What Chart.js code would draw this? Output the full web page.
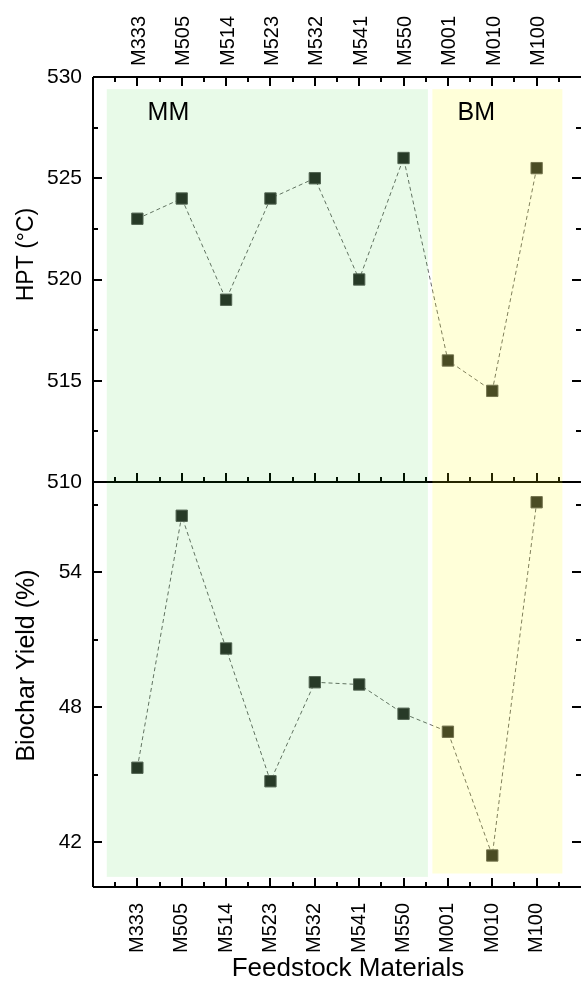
<!DOCTYPE html>
<html lang="en"><head>
<meta charset="utf-8">
<script src="https://cdn.jsdelivr.net/npm/chart.js@4.4.0/dist/chart.umd.min.js"></script>
<style>
  html, body { margin: 0; padding: 0; background: #fff; }
</style>
</head>
<body>
<canvas id="myChart" width="581" height="981"></canvas>
<script>
const materials = ['M333', 'M505', 'M514', 'M523', 'M532', 'M541', 'M550', 'M001', 'M010', 'M100'];
const hpt = [523, 524, 519, 524, 525, 520, 526, 516, 514.5, 525.5];
const biocharYield = [45.3, 56.5, 50.6, 44.7, 49.1, 49.0, 47.7, 46.9, 41.4, 57.1];
const hptTicks = [510, 515, 520, 525, 530];
const yieldTicks = [42, 48, 54];

// shaded groups (x in category index units, top in HPT units, bottom in yield units)
const groupNames = ['MM', 'BM'];
const groupStart = [-0.69, 6.65];
const groupEnd = [6.55, 9.58];
const groupTop = [529.4, 529.4];
const groupBottom = [40.45, 40.6];
const groupLabelX = [0.7, 7.64];
const groupLabelY = [528.2, 528.2];
const groupColors = ['rgba(0,200,0,0.09)', 'rgba(255,255,0,0.15)'];

const FONT = "'Liberation Sans', Arial, sans-serif";
Chart.defaults.font.family = FONT;
Chart.defaults.color = '#000';

const frame = {
  id: 'frame',
  beforeDatasetsDraw(chart) {
    const { ctx, chartArea: a, scales } = chart;
    const x = scales.x, yt = scales.yTop, yb = scales.yBot;
    const mid = yt.getPixelForValue(510);
    ctx.save();
    ctx.strokeStyle = '#000';
    ctx.lineWidth = 2;
    ctx.beginPath();
    ctx.moveTo(a.left, a.top); ctx.lineTo(a.right + 2, a.top);
    ctx.moveTo(a.left, a.bottom); ctx.lineTo(a.right + 2, a.bottom);
    ctx.moveTo(a.left, a.top); ctx.lineTo(a.left, a.bottom);
    ctx.moveTo(a.right + 2, a.top); ctx.lineTo(a.right + 2, a.bottom);
    ctx.moveTo(a.left, mid); ctx.lineTo(a.right + 2, mid);
    ctx.stroke();

    ctx.beginPath();
    for (let v = -0.5; v <= 9.5; v += 0.5) {
      const len = Number.isInteger(v) ? 9 : 5;
      const px = Math.round(x.getPixelForValue(v));
      ctx.moveTo(px, a.top); ctx.lineTo(px, a.top + len);
      ctx.moveTo(px, a.bottom); ctx.lineTo(px, a.bottom - len);
      ctx.moveTo(px, mid); ctx.lineTo(px, mid - len);
    }
    for (let v = 512.5; v < 530; v += 2.5) {
      const len = v % 5 === 0 ? 9 : 5;
      const py = Math.round(yt.getPixelForValue(v));
      ctx.moveTo(a.left, py); ctx.lineTo(a.left + len, py);
      ctx.moveTo(a.right, py); ctx.lineTo(a.right - len, py);
    }
    for (let v = 42; v < 58; v += 3) {
      const len = yieldTicks.includes(v) ? 9 : 5;
      const py = Math.round(yb.getPixelForValue(v));
      ctx.moveTo(a.left, py); ctx.lineTo(a.left + len, py);
      ctx.moveTo(a.right, py); ctx.lineTo(a.right - len, py);
    }
    ctx.stroke();
    ctx.restore();
  },
  afterDatasetsDraw(chart) {
    const { ctx, scales } = chart;
    const x = scales.x, yt = scales.yTop, yb = scales.yBot;
    ctx.save();
    groupNames.forEach((name, i) => {
      const x0 = x.getPixelForValue(groupStart[i]);
      const x1 = x.getPixelForValue(groupEnd[i]);
      const y0 = yt.getPixelForValue(groupTop[i]);
      const y1 = yb.getPixelForValue(groupBottom[i]);
      ctx.fillStyle = groupColors[i];
      ctx.fillRect(x0, y0, x1 - x0, y1 - y0);
    });
    ctx.fillStyle = '#000';
    ctx.font = '25px ' + FONT;
    ctx.textAlign = 'center';
    ctx.textBaseline = 'middle';
    groupNames.forEach((name, i) => {
      ctx.fillText(name, x.getPixelForValue(groupLabelX[i]), yt.getPixelForValue(groupLabelY[i]));
    });
    // axis titles, placed as in the source figure (not quite centred)
    [[yt, 'HPT (\u00B0C)', 23, -25], [yb, 'Biochar Yield (%)', 25, -19]].forEach(([s, t, size, shift]) => {
      ctx.save();
      ctx.font = size + 'px ' + FONT;
      ctx.translate(27, (s.top + s.bottom) / 2 + shift);
      ctx.rotate(-Math.PI / 2);
      ctx.fillText(t, 0, 0);
      ctx.restore();
    });
    ctx.font = '26px ' + FONT;
    ctx.fillText('Feedstock Materials', (x.left + x.right) / 2 + 11, 969);
    ctx.restore();
  }
};

const ds = (vals, axis) => ({
  data: vals.map((v, i) => ({ x: i, y: v })),
  xAxisID: 'x',
  yAxisID: axis,
  borderColor: '#6a6a6a',
  borderWidth: 1,
  borderDash: [4, 3],
  pointStyle: 'rect',
  pointRadius: 8,
  pointBackgroundColor: '#2b2d2b',
  pointBorderColor: '#5a5a5a',
  pointBorderWidth: 1,
  tension: 0,
  clip: false
});

const xAxis = (pos, pad, h, shift) => ({
  type: 'linear',
  position: pos,
  min: -1,
  max: 10,
  afterBuildTicks: s => { s.ticks = materials.map((m, i) => ({ value: i })); },
  ticks: { callback: v => materials[v], minRotation: 90, maxRotation: 90, padding: pad, labelOffset: shift, autoSkip: false, font: { size: 20 } },
  grid: { display: false, drawTicks: false },
  border: { display: false },
  afterFit: s => { s.height = h; s.paddingLeft = 0; s.paddingRight = 0; }
});

const yAxis = (min, max, tickVals) => ({
  type: 'linear',
  position: 'left',
  stack: 'panels',
  stackWeight: 1,
  min: min,
  max: max,
  afterBuildTicks: s => { s.ticks = tickVals.map(v => ({ value: v })); },
  ticks: { padding: 11, font: { size: 21 } },
  grid: { display: false, drawTicks: false },
  border: { display: false },
  afterFit: s => { s.width = 93; s.paddingTop = 0; s.paddingBottom = 0; }
});

const ctx = document.getElementById('myChart').getContext('2d');
new Chart(ctx, {
  type: 'line',
  data: {
    datasets: [ds(hpt, 'yTop'), ds(biocharYield, 'yBot')]
  },
  options: {
    responsive: false,
    animation: false,
    devicePixelRatio: 1,
    layout: { padding: 0, autoPadding: false },
    plugins: { legend: { display: false }, tooltip: { enabled: false } },
    scales: {
      x: xAxis('bottom', 16, 94, 0),
      x2: xAxis('top', 11, 77, 26),
      yBot: yAxis(40, 58, yieldTicks),
      yTop: yAxis(510, 530, hptTicks)
    }
  },
  plugins: [frame]
});
</script>
</body></html>
